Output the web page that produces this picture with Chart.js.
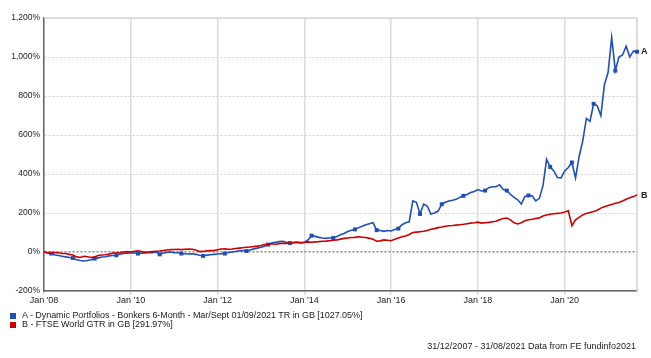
<!DOCTYPE html>
<html>
<head>
<meta charset="utf-8">
<script src="https://cdn.jsdelivr.net/npm/chart.js@4.4.1/dist/chart.umd.min.js"></script>
<style>
  html, body { margin: 0; padding: 0; background: #fff; }
  #wrap { position: relative; width: 651px; height: 358px; font-family: "Liberation Sans", Arial, sans-serif; }
  #c { position: absolute; left: 0; top: 0; }
  #legend { position: absolute; left: 10px; top: 311px; font-size: 9px; color: #222; line-height: 9.4px; letter-spacing: -0.05px; }
  #legend .it { display: flex; align-items: center; white-space: nowrap; }
  #legend .sw { width: 6px; height: 6px; margin-right: 6px; display: inline-block; }
  #footer { position: absolute; right: 15px; top: 341px; font-size: 9px; color: #222; white-space: nowrap; }
</style>
</head>
<body>
<div id="wrap">
  <canvas id="c" width="651" height="358"></canvas>
  <div id="legend"></div>
  <div id="footer">31/12/2007 - 31/08/2021 Data from FE fundinfo2021</div>
</div>
<script>
// ---- data ----
const seriesNames = [
  "A - Dynamic Portfolios - Bonkers 6-Month - Mar/Sept 01/09/2021 TR in GB [1027.05%]",
  "B - FTSE World GTR in GB [291.97%]"
];
const endLabels = ["A", "B"];
const tickLabels = ["Jan '08", "Jan '10", "Jan '12", "Jan '14", "Jan '16", "Jan '18", "Jan '20"];
const yTicks = [-200, 0, 200, 400, 600, 800, 1000, 1200];
const switchMonths = ["Mar", "Sep"];

// monthly points, Jan '08 .. Sep '21
const seriesA = [
  0, -5, -8, -15, -18, -22, -25, -28, -31, -40, -44, -46,
  -44, -40, -34, -30, -26, -24, -20, -18, -17, -12, -8, -6,
  -5, -4, -8, -6, -5, -2, -3, 0, -12, -5, -2, 0,
  -3, -4, -8, -9, -10, -9, -12, -17, -20, -16, -14, -12,
  -10, -9, -8, -3, 0, 3, 6, 8, 5, 10, 16, 20,
  24, 30, 38, 46, 50, 53, 55, 50, 46, 48, 50, 47,
  48, 62, 84, 80, 75, 72, 70, 72, 72, 80, 88, 95,
  105, 112, 116, 125, 132, 140, 145, 150, 112, 110, 106, 110,
  108, 115, 120, 140, 150, 155, 262, 255, 195, 246, 236, 195,
  200, 210, 245, 255, 262, 265, 270, 280, 288, 295, 305, 310,
  320, 313, 315, 330, 335, 335, 345, 320, 315, 295, 280, 268,
  246, 285, 290, 288, 262, 275, 340, 475, 436, 416, 382, 380,
  416, 433, 459, 380, 490, 570, 685, 670, 760, 750, 700, 860,
  920, 1100, 930, 1000, 1010, 1055, 1000, 1030, 1027
];
const seriesB = [
  0, -3, -5, -3, -4, -8, -8, -12, -15, -25, -28, -22,
  -24, -28, -25, -18, -15, -14, -10, -6, -5, -3, 0, 2,
  0, 4, 6, 3, -2, 0, 2, 4, 5, 8, 10, 12,
  13, 14, 12, 14, 15, 14, 10, 2, 3, 6, 8, 7,
  12, 15, 16, 14, 15, 18, 20, 22, 24, 26, 28, 30,
  33, 38, 40, 42, 40, 43, 45, 44, 46, 48, 50, 48,
  50, 52, 50, 52, 53, 55, 56, 58, 60, 62, 66, 70,
  72, 74, 75, 78, 76, 74, 70, 65, 55, 57, 62, 60,
  58, 65, 72, 78, 82, 90, 100, 102, 104, 106, 110, 117,
  120, 125, 128, 132, 135, 136, 138, 140, 142, 145, 148, 150,
  153, 148, 150, 152, 155, 158, 165, 172, 174, 165, 150, 144,
  150, 160, 165, 168, 172, 175, 185, 190, 194, 196, 198, 200,
  205, 211, 135, 165, 178, 190, 198, 203, 208, 214, 225, 232,
  238, 244, 250, 254, 262, 270, 278, 284, 292
];

const monthNames = ["Jan","Feb","Mar","Apr","May","Jun","Jul","Aug","Sep","Oct","Nov","Dec"];
const categories = [];
for (let i = 0; i < seriesA.length; i++) {
  const y = 2008 + Math.floor(i / 12);
  categories.push(monthNames[i % 12] + " '" + String(y).slice(2));
}

const colors = ["#1f4eb8", "#cc0000"];

const endLabelPlugin = {
  id: 'endLabels',
  afterDatasetsDraw(chart) {
    const ctx = chart.ctx;
    ctx.save();
    ctx.font = "bold 9px 'Liberation Sans', Arial, sans-serif";
    ctx.fillStyle = "#222";
    ctx.textBaseline = "middle";
    chart.data.datasets.forEach((ds, i) => {
      const meta = chart.getDatasetMeta(i);
      const pt = meta.data[meta.data.length - 1];
      ctx.fillText(endLabels[i], pt.x + 4, pt.y);
    });
    ctx.restore();
  }
};

const framePlugin = {
  id: 'frame',
  beforeDatasetsDraw(chart) {
    const a = chart.chartArea, ctx = chart.ctx;
    ctx.save();
    ctx.strokeStyle = "#d4d4d4";
    ctx.lineWidth = 1.5;
    ctx.beginPath();
    ctx.moveTo(a.left, a.top); ctx.lineTo(a.right, a.top);
    ctx.moveTo(a.right, a.top); ctx.lineTo(a.right, a.bottom);
    ctx.stroke();
    ctx.restore();
  }
};

const chart = new Chart(document.getElementById('c'), {
  type: 'line',
  data: {
    labels: categories,
    datasets: [
      {
        label: seriesNames[0], data: seriesA, borderColor: colors[0], backgroundColor: colors[0],
        borderWidth: 1.6, tension: 0, order: 1,
        pointStyle: 'rect',
        pointRadius: c => switchMonths.includes(categories[c.dataIndex].slice(0, 3)) ? 2.8 : 0,
        pointBorderWidth: 0
      },
      {
        label: seriesNames[1], data: seriesB, borderColor: colors[1], backgroundColor: colors[1],
        borderWidth: 1.6, tension: 0, order: 0, pointRadius: 0
      }
    ]
  },
  options: {
    responsive: false,
    animation: false,
    layout: { padding: { left: 0, top: 18, right: 14, bottom: 0 } },
    plugins: { legend: { display: false }, tooltip: { enabled: false } },
    scales: {
      x: {
        type: 'category',
        offset: false,
        afterFit: s => { s.height = 67; },
        grid: {
          color: c => tickLabels.includes(categories[c.index]) ? '#dcdcdc' : 'rgba(0,0,0,0)',
          tickColor: c => tickLabels.includes(categories[c.index]) ? '#dcdcdc' : 'rgba(0,0,0,0)',
          lineWidth: 1.5,
          tickLength: 4
        },
        border: { color: '#666', width: 1.5 },
        ticks: {
          autoSkip: false, maxRotation: 0, minRotation: 0, padding: 0,
          color: '#222',
          font: { family: "'Liberation Sans', Arial, sans-serif", size: 9 },
          callback: (v, i) => tickLabels.includes(categories[i]) ? categories[i] : ''
        }
      },
      y: {
        min: yTicks[0], max: yTicks[yTicks.length - 1],
        afterFit: s => { s.width = 44; },
        afterBuildTicks: s => { s.ticks = yTicks.map(v => ({ value: v })); },
        grid: {
          color: c => c.tick.value === 0 ? '#8a8a8a' : (c.tick.value === 1200 ? 'rgba(0,0,0,0)' : '#d0d0d0'),
          lineWidth: c => c.tick.value === 0 ? 1.5 : 1,
          drawTicks: false
        },
        border: { color: '#666', width: 1.5, dash: [2, 2] },
        ticks: {
          padding: 4, color: '#222',
          font: { family: "'Liberation Sans', Arial, sans-serif", size: 8.5 },
          callback: v => v.toLocaleString('en-US') + '%'
        }
      }
    }
  },
  plugins: [framePlugin, endLabelPlugin]
});

const lg = document.getElementById('legend');
chart.data.datasets.forEach(ds => {
  const d = document.createElement('div');
  d.className = 'it';
  const sw = document.createElement('span');
  sw.className = 'sw';
  sw.style.background = ds.borderColor;
  d.appendChild(sw);
  d.appendChild(document.createTextNode(ds.label));
  lg.appendChild(d);
});
</script>
</body>
</html>
